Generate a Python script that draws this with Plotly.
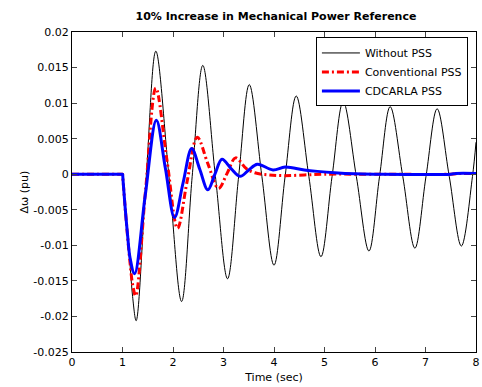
import plotly.graph_objects as go

# Without PSS (black)
t_nopss = [0, 0.5, 0.99, 1.0, 1.01, 1.05, 1.10, 1.15, 1.20, 1.27, 1.47, 1.66, 1.92, 2.17, 2.38,
           2.59, 2.84, 3.08, 3.30, 3.51, 3.76, 4.00, 4.22, 4.44, 4.69, 4.93, 5.15, 5.37, 5.63,
           5.88, 6.09, 6.30, 6.55, 6.79, 7.01, 7.23, 7.47, 7.71, 7.93, 8.0]
v_nopss = [0, 0, 0, 0, -0.0008, -0.0045, -0.0087, -0.0128, -0.0172, -0.0206, -0.0003, 0.0173,
           -0.0003, -0.0179, -0.0003, 0.0153, -0.0003, -0.0147, -0.0003, 0.0126, -0.0003,
           -0.0128, -0.0003, 0.0110, -0.0003, -0.0116, -0.0003, 0.0102, -0.0003, -0.0108,
           -0.0003, 0.0095, -0.0003, -0.0104, -0.0003, 0.0092, -0.0003, -0.0101, -0.0003, 0.0045]

# Conventional PSS (red dash-dot)
t_conv = [0, 0.5, 0.99, 1.0, 1.01, 1.05, 1.10, 1.15, 1.20, 1.26, 1.46, 1.66, 1.88, 2.09, 2.28,
          2.48, 2.69, 2.90, 3.07, 3.24, 3.45, 3.62, 3.9, 4.2, 4.6, 5.0, 6.0, 7.5, 7.7, 8.0]
v_conv = [0, 0, 0, 0, -0.0008, -0.0045, -0.0087, -0.0125, -0.0155, -0.0171, -0.0020, 0.0121,
          0.0020, -0.0076, -0.0010, 0.0052, 0.0015, -0.0020, 0.0001, 0.0023, 0.0008, 0.0002,
          -0.0001, -0.0002, -0.0001, 0, 0, 0, 0.0001, 0.0001]

# CDCARLA PSS (blue)
t_cdc = [0, 0.5, 0.99, 1.0, 1.01, 1.05, 1.10, 1.15, 1.24, 1.45, 1.67, 1.85, 2.03, 2.20, 2.37,
         2.53, 2.69, 2.83, 2.97, 3.15, 3.33, 3.50, 3.67, 3.98, 4.22, 4.60, 4.86, 5.2, 5.6, 6.0,
         7.5, 7.6, 8.0]
v_cdc = [0, 0, 0, 0, -0.0008, -0.0045, -0.0085, -0.0118, -0.0140, -0.0030, 0.0076, 0.0008,
         -0.0061, -0.0012, 0.0036, 0.0007, -0.0022, 0.0000, 0.0021, 0.0008, -0.0003, 0.0006,
         0.0014, 0.0006, 0.0010, 0.0006, 0.0004, 0.0002, 0.00005, 0, 0, 0.0001, 0.0001]

y_ticks = [0.02, 0.015, 0.01, 0.005, 0, -0.005, -0.01, -0.015, -0.02, -0.025]
y_ticktext = ["0.02", "0.015", "0.01", "0.005", "0", "-0.005", "-0.01", "-0.015", "-0.02", "-0.025"]
x_ticks = [0, 1, 2, 3, 4, 5, 6, 7, 8]

FONT = "DejaVu Sans"

fig = go.Figure()
fig.add_trace(go.Scatter(x=t_nopss, y=v_nopss, mode="lines", name="Without PSS",
                         line=dict(color="black", width=1, shape="spline", smoothing=1.0)))
fig.add_trace(go.Scatter(x=t_conv, y=v_conv, mode="lines", name="Conventional PSS",
                         line=dict(color="red", width=3, dash="7px,3px,2px,3px",
                                   shape="spline", smoothing=1.0)))
fig.add_trace(go.Scatter(x=t_cdc, y=v_cdc, mode="lines", name="CDCARLA PSS",
                         line=dict(color="blue", width=3, shape="spline", smoothing=1.0)))

fig.update_layout(
    width=482, height=387,
    margin=dict(l=72, r=2, t=32, b=35),
    paper_bgcolor="white", plot_bgcolor="white",
    font=dict(family=FONT, size=11, color="black"),
    title=dict(text="<b>10% Increase in Mechanical Power Reference</b>",
               x=276 / 482, xanchor="center", y=1 - 16 / 387, yanchor="middle",
               font=dict(family=FONT, size=11, color="black")),
    legend=dict(x=0.98, y=0.983, xanchor="right", yanchor="top",
                bgcolor="white", bordercolor="black", borderwidth=1,
                font=dict(family=FONT, size=11, color="black"),
                tracegroupgap=0, itemwidth=38),
    showlegend=True,
)
fig.update_xaxes(range=[0, 8], tickvals=x_ticks, ticks="inside", ticklen=5,
                 showline=True, linecolor="black", linewidth=1, mirror="ticks",
                 showgrid=False, zeroline=False, ticklabeloverflow="allow",
                 title=dict(text="Time (sec)", standoff=5, font=dict(size=11)),
                 tickfont=dict(size=11))
fig.update_yaxes(range=[-0.025, 0.02], tickvals=y_ticks, ticktext=y_ticktext,
                 ticks="inside", ticklen=5,
                 showline=True, linecolor="black", linewidth=1, mirror="ticks",
                 showgrid=False, zeroline=False,
                 title=dict(text="Δω (pu)", standoff=2, font=dict(size=11)),
                 tickfont=dict(size=11))

fig.write_html("out.html")
